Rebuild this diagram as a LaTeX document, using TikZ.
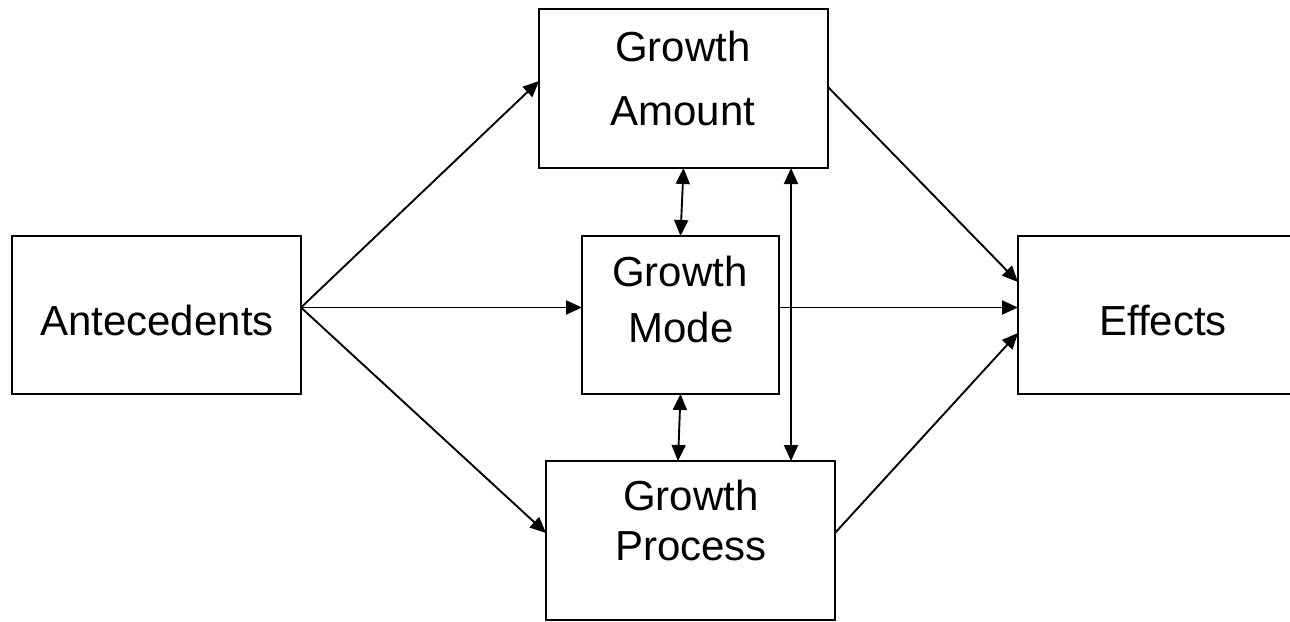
\documentclass[tikz,border=0pt]{standalone}
\usepackage{fontspec}
\setmainfont{Liberation Sans}
\usetikzlibrary{arrows.meta}
\begin{document}
\begin{tikzpicture}[x=1pt,y=-1pt,
  box/.style={draw=black,line width=2.2pt,rectangle,inner sep=0pt,outer sep=0pt,fill=white},
  lbl/.style={anchor=base,inner sep=0pt,font=\fontsize{42}{48}\selectfont},
  arr/.style={line width=1.9pt,-{Triangle[length=16pt,width=14pt]}},
  darr/.style={line width=1.9pt,{Triangle[length=16pt,width=14pt]}-{Triangle[length=16pt,width=14pt]}}]
\clip (0,0) rectangle (1290,621);
\fill[white] (0,0) rectangle (1290,621);
% boxes
\node[box,minimum width=289pt,minimum height=158pt] (ante) at (156.5,315) {};
\node[box,minimum width=289pt,minimum height=159pt] (amount) at (683.5,88.5) {};
\node[box,minimum width=197pt,minimum height=158pt] (mode) at (680.5,315) {};
\node[box,minimum width=289pt,minimum height=159pt] (process) at (690.5,540.5) {};
\node[box,minimum width=292pt,minimum height=158pt] (effects) at (1164,315) {};
% labels
\node[lbl] (anteT) at (157,335) {Antecedents};
\node[lbl] (amountT1) at (683,61) {Growth};
\node[lbl] (amountT2) at (683,125) {Amount};
\node[lbl] (modeT1) at (680,286) {Growth};
\node[lbl] (modeT2) at (681,342) {Mode};
\node[lbl] (processT1) at (691,510) {Growth};
\node[lbl] (processT2) at (691,560) {Process};
\node[lbl] (effectsT) at (1163,335) {Effects};
% connectors
\draw[arr] ([yshift=7.5pt]ante.east) -- ([yshift=7.5pt]amount.west);
\draw[arr] ([yshift=7.5pt]ante.east) -- ([yshift=7.5pt]mode.west);
\draw[arr] ([yshift=7.5pt]ante.east) -- ([yshift=7.5pt]process.west);
\draw[arr] ([yshift=1.5pt]amount.east) -- ([yshift=33pt]effects.west);
\draw[arr] ([yshift=7.5pt]mode.east) -- ([yshift=7.5pt]effects.west);
\draw[arr] ([yshift=7.5pt]process.east) -- ([yshift=-18pt]effects.west);
\draw[darr] (amount.south) -- (mode.north);
\draw[darr] (mode.south) -- ([xshift=-12.5pt]process.north);
\coordinate (vx) at (791,0);
\draw[darr] (amount.south -| vx) -- (process.north -| vx);
\end{tikzpicture}
\end{document}
